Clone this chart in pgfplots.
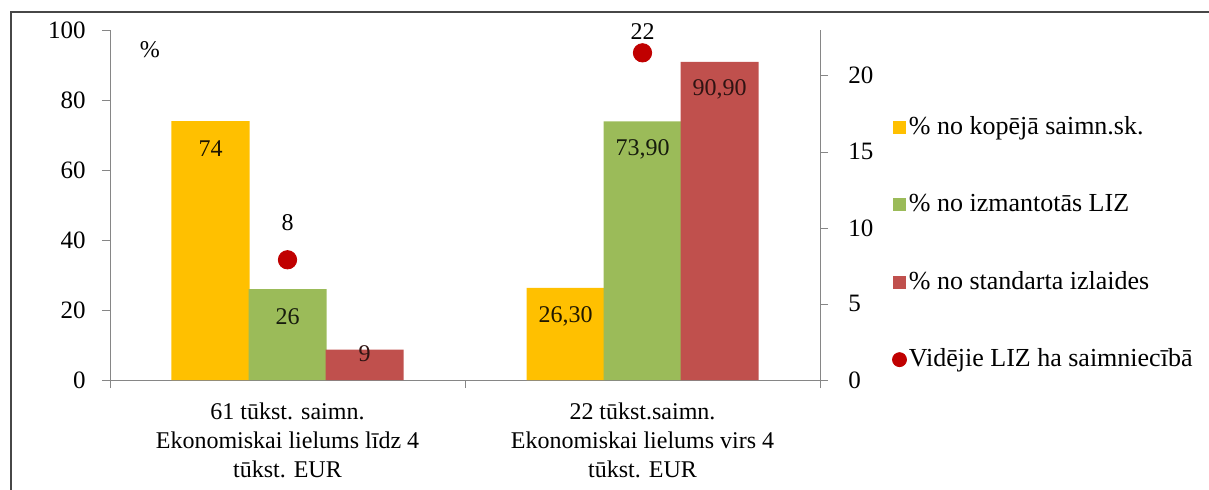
\documentclass[border=0pt]{standalone}
\usepackage{fontspec}
\setmainfont{Liberation Serif}
\usepackage{pgfplots}
\usepackage{pgfplotstable}
\pgfplotsset{compat=1.18}
\definecolor{cY}{HTML}{FFC000}
\definecolor{cG}{HTML}{9BBB59}
\definecolor{cR}{HTML}{C0504D}
\definecolor{cD}{HTML}{C00000}
\definecolor{axisgray}{HTML}{868686}
\pgfplotstableread{
x y lab
0 74 74
1 26.3 26,30
}\tY
\pgfplotstableread{
x y lab
0 26 26
1 73.9 73,90
}\tG
\pgfplotstableread{
x y lab
0 8.7 9
1 90.9 90,90
}\tR
\pgfplotstableread{
x y lab
0 7.9 8
1 21.5 22
}\tD
\begin{document}
\fontsize{12}{14.5}\selectfont
\begin{tikzpicture}
\useasboundingbox (-55pt,-54.5pt) rectangle (549.5pt,190pt);
\draw[line width=1.4pt, color=black!72] (-49.5pt,-60pt) -- (-49.5pt,184pt) -- (560pt,184pt);
\begin{axis}[
  width=355pt, height=175pt, scale only axis,
  xmin=-0.5, xmax=1.5, ymin=0, ymax=100,
  axis x line*=bottom, axis y line*=left,
  axis line style={draw=axisgray, -},
  ybar=0pt, bar width=39pt,
  ytick={0,20,...,100},
  xtick={0,1},
  xticklabels={{61 tūkst. saimn.\\Ekonomiskai lielums līdz 4\\tūkst. EUR},{22 tūkst.saimn.\\Ekonomiskai lielums virs 4\\tūkst. EUR}},
  xticklabel style={align=center, yshift=-3pt, font=\fontsize{12}{14.5}\selectfont},
  minor xtick={-0.5,0.5,1.5},
  major x tick style={draw=none},
  minor x tick style={draw=axisgray},
  minor tick length=4pt,
  major y tick style={draw=axisgray},
  tick align=outside,
  major tick length=4pt,
  yticklabel style={xshift=-4pt, font=\fontsize{12.5}{15}\selectfont},
  /pgf/number format/assume math mode=true,
  nodes near coords=\pgfplotspointmeta,
  point meta=explicit symbolic,
  visualization depends on={y \as \rawy},
  nodes near coords style={anchor=center, font=\fontsize{12}{15}\selectfont, yshift={ifthenelse(\rawy<20,-2,-14)*1pt}},
  clip=false,
]
\addplot[fill=cY, draw=none, bar shift=-38.5pt, nodes near coords style={text=black!80!cY!60!black}] table[x=x,y=y,meta=lab]{\tY};
\addplot[fill=cG, draw=none, bar shift=0pt, nodes near coords style={text=black!85!cG}] table[x=x,y=y,meta=lab]{\tG};
\addplot[fill=cR, draw=none, bar shift=38.5pt, nodes near coords style={text=black!75!cR}] table[x=x,y=y,meta=lab]{\tR};
\node at (axis description cs:0.056,0.943) {\%};
\end{axis}
\begin{axis}[
  width=355pt, height=175pt, scale only axis,
  xmin=-0.5, xmax=1.5, ymin=0, ymax=23,
  axis x line=none, axis y line*=right,
  axis line style={draw=axisgray, -},
  ytick={0,5,...,20},
  tick align=outside,
  major tick length=4pt,
  major y tick style={draw=axisgray},
  yticklabel style={xshift=6pt, font=\fontsize{12.5}{15}\selectfont},
  /pgf/number format/assume math mode=true,
  clip=false,
  legend cell align=left,
  legend style={at={(axis description cs:1.101,0.765)}, anchor=north west, draw=none, fill=none, inner sep=0pt, row sep=24pt, font=\fontsize{13}{15}\selectfont, nodes={inner xsep=1pt}},
]
\addlegendimage{legend image code/.code={\fill[cY] (0pt,-3pt) rectangle (6pt,3pt);}}
\addlegendentry{\% no kopējā saimn.sk.}
\addlegendimage{legend image code/.code={\fill[cG] (0pt,-3pt) rectangle (6pt,3pt);}}
\addlegendentry{\% no izmantotās LIZ}
\addlegendimage{legend image code/.code={\fill[cR] (0pt,-3pt) rectangle (6pt,3pt);}}
\addlegendentry{\% no standarta izlaides}
\addplot[only marks, mark=*, mark size=4.6pt, color=cD,
  legend image code/.code={\fill[cD] (3pt,0pt) circle (3.5pt);},
  nodes near coords=\pgfplotspointmeta,
  point meta=explicit symbolic,
  visualization depends on={y \as \rawy},
  nodes near coords style={anchor=center, text=black, font=\fontsize{12}{15}\selectfont, yshift={ifthenelse(\rawy>15,10.5,18.5)*1pt}},
] table[x=x,y=y,meta=lab]{\tD};
\addlegendentry{Vidējie LIZ ha saimniecībā}
\end{axis}
\end{tikzpicture}
\end{document}
